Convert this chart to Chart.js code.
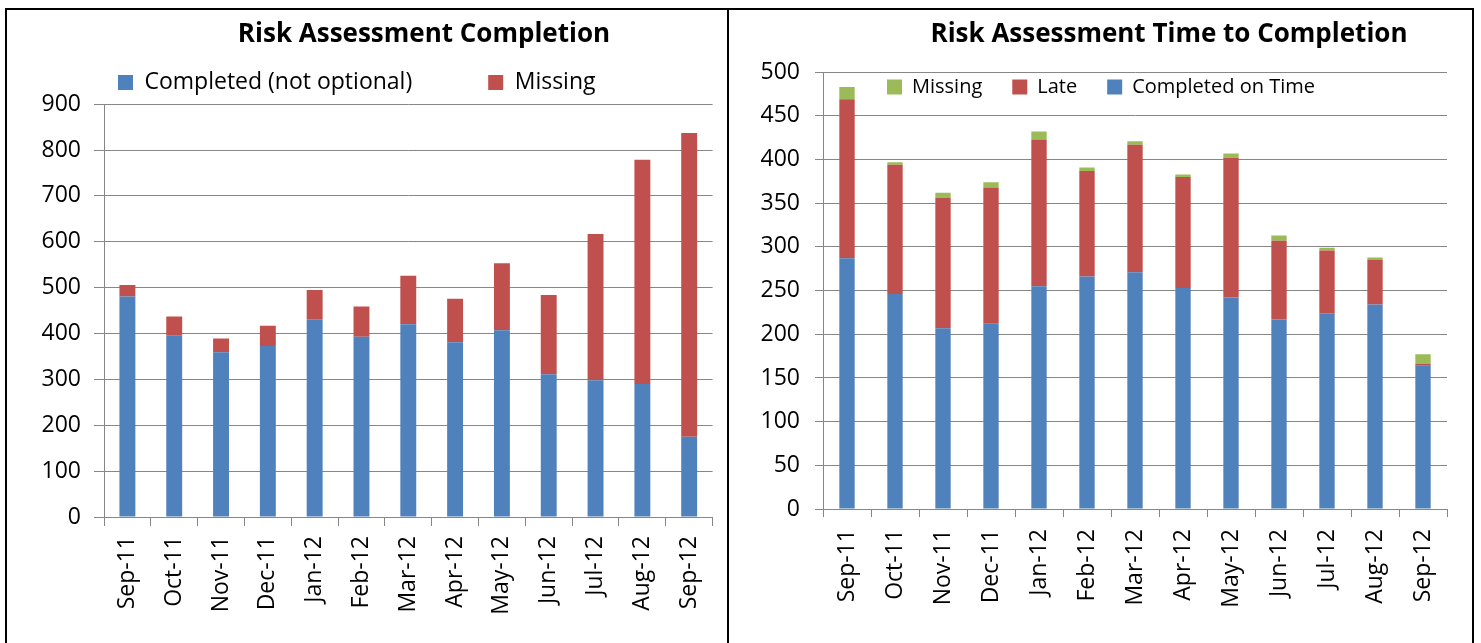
<!DOCTYPE html>
<html>
<head>
<meta charset="utf-8">
<script src="https://cdn.jsdelivr.net/npm/chart.js@4/dist/chart.umd.min.js"></script>
<style>
  html, body { margin: 0; padding: 0; background: #fff; overflow: hidden; }
  .frame { position: absolute; left: 5px; top: 8px; width: 1465px; height: 700px; border: 2px solid #000; }
  .divider { position: absolute; left: 727px; top: 8px; width: 2px; height: 700px; background: #000; }
  .box { position: absolute; top: 10px; height: 633px; }
  #leftBox { left: 7px; width: 720px; }
  #rightBox { left: 729px; width: 743px; }
</style>
</head>
<body>
<div class="frame"></div>
<div class="divider"></div>
<div class="box" id="leftBox"><canvas id="completionChart"></canvas></div>
<div class="box" id="rightBox"><canvas id="timeChart"></canvas></div>
<script>
// 数据
const months = ['Sep-11', 'Oct-11', 'Nov-11', 'Dec-11', 'Jan-12', 'Feb-12', 'Mar-12',
                'Apr-12', 'May-12', 'Jun-12', 'Jul-12', 'Aug-12', 'Sep-12'];

// 左图: Risk Assessment Completion
const completedNotOptional = [481, 395, 359, 373, 431, 393, 420, 381, 407, 311, 298, 290, 175];
const missingAssessments   = [25, 42, 30, 44, 64, 66, 106, 95, 146, 173, 319, 489, 662];
const completionTicks = { max: 900, step: 100 };

// 右图: Risk Assessment Time to Completion
const completedOnTime = [287, 246, 207, 212, 255, 266, 271, 253, 242, 217, 224, 234, 164];
const lateCompletion  = [182, 148, 149, 156, 168, 121, 146, 127, 160, 90, 72, 51, 2];
const missingCompletion = [14, 3, 6, 6, 9, 4, 4, 3, 5, 6, 3, 3, 11];
const timeTicks = { max: 500, step: 50 };

const BLUE = '#4f81bd';
const RED = '#c0504d';
const GREEN = '#9bbb59';
const GRID = '#878787';
const FONT = "'Open Sans'";

// 把图例和标题放到指定位置（图例横排，不占布局空间）
const placeBlocks = {
  id: 'placeBlocks',
  afterLayout(chart, args, opts) {
    const lg = chart.legend;
    if (lg && opts.legendX !== undefined) {
      const pad = chart.options.plugins.legend.labels.padding;
      lg.isHorizontal = function() { return true; };
      lg.maxWidth = 3000;
      lg.fit();
      lg.left = opts.legendX - pad;
      lg.right = lg.left + lg.width;
      lg.top = opts.legendY - pad;
      lg.bottom = lg.top + lg.height;
    }
    const tb = chart.titleBlock;
    if (tb && opts.titleX !== undefined) {
      const w = tb.right - tb.left;
      tb.left = opts.titleX - w / 2;
      tb.right = tb.left + w;
    }
  }
};

function makeOptions(cfg) {
  return {
    responsive: true,
    maintainAspectRatio: false,
    animation: false,
    layout: { padding: { left: 0, right: cfg.padRight, top: 0, bottom: 0 } },
    plugins: {
      title: {
        display: true,
        text: cfg.title,
        color: '#000',
        font: { family: FONT, size: 26, weight: 'bold' },
        padding: { top: 9, bottom: cfg.titleBottom }
      },
      legend: {
        position: 'chartArea',
        align: 'start',
        reverse: cfg.reverse,
        labels: {
          boxWidth: 15,
          boxHeight: 15,
          padding: cfg.legendGap,
          color: '#000',
          font: { family: FONT, size: cfg.legendSize }
        }
      },
      tooltip: { enabled: false },
      placeBlocks: { legendX: cfg.legendX, legendY: cfg.legendY, titleX: cfg.titleX }
    },
    scales: {
      x: {
        stacked: true,
        afterFit: function(scale) { scale.height = cfg.xHeight; },
        grid: { display: true, drawOnChartArea: false, drawTicks: true, tickLength: cfg.tickX, color: GRID },
        border: { display: true, color: GRID },
        ticks: {
          autoSkip: false,
          minRotation: 90,
          maxRotation: 90,
          padding: cfg.padX,
          color: '#000',
          font: { family: FONT, size: 23 }
        }
      },
      y: {
        stacked: true,
        min: 0,
        max: cfg.ticks.max,
        afterFit: function(scale) { scale.width = cfg.yWidth; },
        grid: { color: GRID, tickLength: cfg.tickY },
        border: { display: true, color: GRID },
        ticks: {
          stepSize: cfg.ticks.step,
          padding: cfg.padY,
          color: '#000',
          font: { family: FONT, size: 23 }
        }
      }
    }
  };
}

new Chart(document.getElementById('completionChart'), {
  type: 'bar',
  data: {
    labels: months,
    datasets: [
      { label: 'Completed (not optional)', data: completedNotOptional, backgroundColor: BLUE,
        barPercentage: 0.34, categoryPercentage: 1 },
      { label: 'Missing', data: missingAssessments, backgroundColor: RED,
        barPercentage: 0.34, categoryPercentage: 1 }
    ]
  },
  options: makeOptions({
    title: 'Risk Assessment Completion',
    titleBottom: 54, titleX: 417,
    legendX: 111, legendY: 61, legendGap: 76, legendSize: 23, reverse: false,
    padRight: 6, xHeight: 126, yWidth: 97,
    tickX: 9, tickY: 10, padX: 10, padY: 13,
    ticks: completionTicks
  }),
  plugins: [placeBlocks]
});

new Chart(document.getElementById('timeChart'), {
  type: 'bar',
  data: {
    labels: months,
    datasets: [
      { label: 'Completed on Time', data: completedOnTime, backgroundColor: BLUE,
        barPercentage: 0.32, categoryPercentage: 1 },
      { label: 'Late', data: lateCompletion, backgroundColor: RED,
        barPercentage: 0.32, categoryPercentage: 1 },
      { label: 'Missing', data: missingCompletion, backgroundColor: GREEN,
        barPercentage: 0.32, categoryPercentage: 1 }
    ]
  },
  options: makeOptions({
    title: 'Risk Assessment Time to Completion',
    titleBottom: 22, titleX: 440,
    legendX: 158, legendY: 67, legendGap: 30, legendSize: 20, reverse: true,
    padRight: 25, xHeight: 134, yWidth: 94,
    tickX: 8, tickY: 8, padX: 12, padY: 15,
    ticks: timeTicks
  }),
  plugins: [placeBlocks]
});
</script>
</body>
</html>
